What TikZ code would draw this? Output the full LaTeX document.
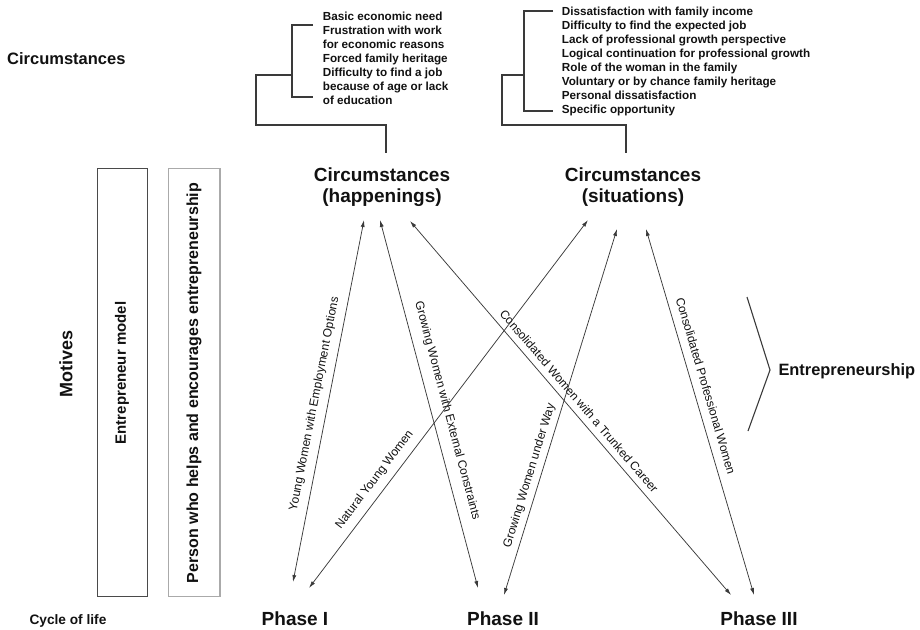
\documentclass[tikz,border=0pt]{standalone}
\usepackage{fontspec}
\setmainfont{Liberation Sans}
\usetikzlibrary{arrows.meta}
\definecolor{linegray}{HTML}{3A3A3A}
\definecolor{boxdark}{HTML}{4A4A4A}
\definecolor{boxlight}{HTML}{AAAAAA}
\definecolor{ink}{HTML}{111111}
\begin{document}
\begin{tikzpicture}[x=1pt,y=-1pt,
  sidelbl/.style={font=\bfseries\fontsize{16.5}{19}\selectfont, text=ink, inner sep=0pt, anchor=base west},
  listtxt/.style={font=\bfseries\fontsize{11.7}{14}\selectfont, text=ink, align=left, anchor=north west, inner sep=0pt},
  heading/.style={font=\bfseries\fontsize{19}{21}\selectfont, text=ink, align=center, inner sep=0pt},
  phase/.style={font=\bfseries\fontsize{19}{21}\selectfont, text=ink, anchor=base, inner sep=0pt},
  boxtxt/.style={font=\bfseries\fontsize{#1}{18}\selectfont, text=ink, rotate=90, inner sep=0pt},
  arrowlbl/.style={font=\fontsize{12}{14}\selectfont, text=ink, sloped, inner sep=0pt},
  link/.style={draw=linegray, line width=1.2pt},
  dbl/.style={draw=linegray, line width=0.75pt, {Latex[length=7pt,width=4pt]}-{Latex[length=7pt,width=4pt]}},
  frame/.style={draw=#1, line width=1.4pt}
]
\useasboundingbox (0,0) rectangle (920,629);

% left side labels
\node[sidelbl] (circ) at (7,64.9) {Circumstances};
\node[boxtxt=18, anchor=center] (motives) at (66,364) {Motives};
\node[font=\bfseries\fontsize{13.7}{16}\selectfont, text=ink, inner sep=0pt, anchor=base west] (cycle) at (29.3,624.9) {Cycle of life};

% lists
\node[listtxt] (listA) at (322.7,11.4) {Basic economic need\\Frustration with work\\for economic reasons\\Forced family heritage\\Difficulty to find a job\\because of age or lack\\of education};
\node[listtxt] (listB) at (561.7,6.4) {Dissatisfaction with family income\\Difficulty to find the expected job\\Lack of professional growth perspective\\Logical continuation for professional growth\\Role of the woman in the family\\Voluntary or by chance family heritage\\Personal dissatisfaction\\Specific opportunity};

% headings
\node[heading] (hap) at (382,187.5) {Circumstances\\(happenings)};
\node[heading] (sit) at (633,187.5) {Circumstances\\(situations)};

% brackets
\coordinate (aT) at (313,25);
\coordinate (aB) at (313,97);
\coordinate (aE) at (386,153);
\draw[link] (aT) -- (292,25) -- (292,97) -- (aB);
\draw[link] (292,75) -- (256,75) -- (256,125) -- (386,125) -- (aE);
\coordinate (bT) at (553,11);
\coordinate (bB) at (553,111);
\coordinate (bE) at (626,153);
\draw[link] (bT) -- (524,11) -- (524,111) -- (bB);
\draw[link] (524,75) -- (502,75) -- (502,125) -- (626,125) -- (bE);

% boxes
\node[frame=boxdark, minimum width=50pt, minimum height=428.4pt, inner sep=0pt] (boxA) at (122.3,382.5) {};
\node[frame=boxlight, minimum width=51.7pt, minimum height=428.4pt, inner sep=0pt] (boxB) at (194.1,382.5) {};
\node[boxtxt=15, anchor=center] (modeltxt) at (122,373) {Entrepreneur model};
\node[boxtxt=16, anchor=center] (persontxt) at (194,383) {Person who helps and encourages entrepreneurship};

% phases
\node[phase] (p1) at (295,625.3) {Phase I};
\node[phase] (p2) at (503,625.3) {Phase II};
\node[phase] (p3) at (759,625.3) {Phase III};

% arrow end points
\coordinate (h1) at (364,220);
\coordinate (h2) at (380,220);
\coordinate (h3) at (410,221);
\coordinate (s1) at (588,220);
\coordinate (s2) at (617,229);
\coordinate (s3) at (646,229);
\coordinate (q1a) at (293,582);
\coordinate (q1b) at (309,588);
\coordinate (q2a) at (478,588);
\coordinate (q2b) at (504,595);
\coordinate (q3a) at (731,595);
\coordinate (q3b) at (754,595);

\draw[dbl] (h1) -- node[arrowlbl, pos=0.515, above=7.1pt] {Young Women with Employment Options} (q1a);
\draw[dbl] (h2) -- node[arrowlbl, pos=0.529, above=9.8pt] {Growing Women with External Constraints} (q2a);
\draw[dbl] (h3) -- node[arrowlbl, pos=0.501, above=6.3pt] {Consolidated Women with a Trunked Career} (q3a);
\draw[dbl] (s1) -- node[arrowlbl, pos=0.727, above=7.1pt] {Natural Young Women} (q1b);
\draw[dbl] (s2) -- node[arrowlbl, pos=0.683, above=4.7pt] {Growing Women under Way} (q2b);
\draw[dbl] (s3) -- node[arrowlbl, pos=0.439, above=8.2pt] {Consolidated Professional Women} (q3b);

% entrepreneurship bracket
\coordinate (eT) at (747,297);
\coordinate (eB) at (748,431);
\draw[draw=linegray, line width=1.1pt] (eT) -- (770,370) -- (eB);
\node[font=\bfseries\fontsize{16.4}{19}\selectfont, text=ink, inner sep=0pt, anchor=base west] (entre) at (778.3,375.2) {Entrepreneurship};
\end{tikzpicture}
\end{document}
